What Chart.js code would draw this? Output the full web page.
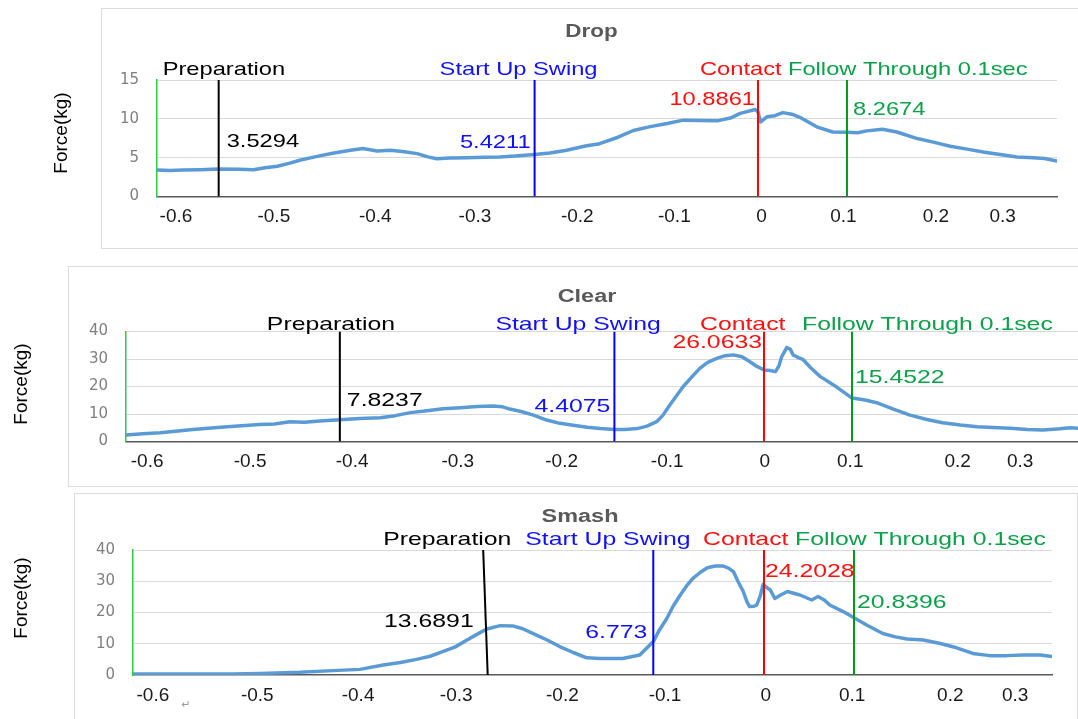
<!DOCTYPE html>
<html>
<head>
<meta charset="utf-8">
<script src="https://cdn.jsdelivr.net/npm/chart.js@4.4.1/dist/chart.umd.min.js"></script>
<style>
html,body{margin:0;padding:0;background:#fff;overflow:hidden;width:1078px;height:719px;position:relative}
.frame{position:absolute;border:1px solid #dcdcdc;box-sizing:border-box}
.wrap{position:absolute;left:0;width:1078px}
</style>
</head>
<body>
<div class="frame" style="left:101px;top:8px;width:1000px;height:241px"></div>
<div class="frame" style="left:68px;top:266px;width:1030px;height:221px"></div>
<div class="frame" style="left:74px;top:493px;width:1004px;height:260px"></div>
<div class="wrap" style="top:0px;height:250px"><canvas id="drop"></canvas></div>
<div class="wrap" style="top:256px;height:230px"><canvas id="clear"></canvas></div>
<div class="wrap" style="top:488px;height:231px"><canvas id="smash"></canvas></div>
<script>
// ---------------- data ----------------
const yTitle = 'Force(kg)';
const eventNames = ['Preparation', 'Start Up Swing', 'Contact', 'Follow Through 0.1sec'];
const tickLabels = ['-0.6', '-0.5', '-0.4', '-0.3', '-0.2', '-0.1', '0', '0.1', '0.2', '0.3'];

// Drop
const dropTitle = 'Drop';
const dropTime = [-0.675,-0.661,-0.646,-0.627,-0.606,-0.582,-0.567,-0.554,-0.540,-0.526,-0.515,-0.498,-0.478,-0.458,-0.444,-0.428,-0.413,-0.397,-0.383,-0.371,-0.361,-0.346,-0.327,-0.307,-0.290,-0.273,-0.251,-0.234,-0.215,-0.194,-0.178,-0.158,-0.140,-0.121,-0.102,-0.084,-0.065,-0.046,-0.031,-0.020,-0.003,0.000,0.003,0.010,0.019,0.028,0.038,0.047,0.066,0.084,0.100,0.112,0.122,0.140,0.156,0.179,0.197,0.216,0.235,0.253,0.272,0.291,0.309,0.322,0.336];
const dropForce = [3.40,3.35,3.40,3.45,3.53,3.50,3.45,3.70,3.90,4.30,4.66,5.10,5.56,5.95,6.17,5.86,5.95,5.75,5.52,5.10,4.87,4.95,5.00,5.05,5.08,5.20,5.42,5.60,5.95,6.50,6.80,7.60,8.50,9.00,9.40,9.83,9.80,9.74,10.10,10.70,11.20,10.89,9.60,10.26,10.40,10.80,10.60,10.20,8.97,8.30,8.27,8.20,8.45,8.67,8.30,7.46,7.00,6.47,6.10,5.73,5.40,5.08,5.00,4.90,4.57];
const dropEventTime = [-0.606, -0.251, 0, 0.1];
const dropEventTimeTop = [-0.606, -0.251, 0, 0.1];
const dropEventForce = [3.5294, 5.4211, 10.8861, 8.2674];
const dropTickAt = [-0.654,-0.544,-0.430,-0.318,-0.203,-0.094,0.004,0.096,0.200,0.275];
const dropRange = [-0.6753, 0.3360];
const dropYMax = 15, dropYStep = 5;

// Clear
const clearTitle = 'Clear';
const clearTime = [-0.725,-0.706,-0.686,-0.649,-0.610,-0.573,-0.556,-0.539,-0.522,-0.505,-0.482,-0.459,-0.436,-0.419,-0.402,-0.383,-0.365,-0.345,-0.326,-0.308,-0.297,-0.289,-0.275,-0.262,-0.247,-0.232,-0.217,-0.201,-0.186,-0.170,-0.158,-0.144,-0.133,-0.122,-0.115,-0.107,-0.099,-0.092,-0.082,-0.073,-0.064,-0.053,-0.044,-0.035,-0.025,-0.016,-0.008,0.000,0.007,0.013,0.017,0.020,0.026,0.030,0.033,0.039,0.044,0.053,0.064,0.083,0.100,0.115,0.128,0.147,0.166,0.185,0.203,0.223,0.242,0.260,0.280,0.299,0.317,0.336,0.348,0.356];
const clearForce = [2.4,2.8,3.2,4.4,5.4,6.2,6.4,7.2,7.0,7.45,7.9,8.4,8.6,9.4,10.5,11.2,11.9,12.3,12.7,12.9,12.6,11.8,10.8,9.6,7.8,6.6,5.9,5.2,4.7,4.4,4.4,4.7,5.6,7.2,9.5,13.3,16.8,19.9,23.5,26.6,28.8,30.3,31.2,31.5,30.8,29.0,27.3,26.0,25.8,25.4,27.5,30.8,34.2,33.5,31.5,30.5,29.9,26.8,23.6,19.7,15.8,15.1,14.1,11.8,9.6,8.0,6.8,6.0,5.4,5.1,4.8,4.4,4.2,4.6,5.0,4.8];
const clearEventTime = [-0.482, -0.170, 0, 0.1];
const clearEventTimeTop = [-0.482, -0.170, 0, 0.1];
const clearEventForce = [7.8237, 4.4075, 26.0633, 15.4522];
const clearTickAt = [-0.701,-0.584,-0.468,-0.348,-0.230,-0.110,0.001,0.098,0.220,0.291];
const clearRange = [-0.725, 0.3568];
const clearYMax = 40, clearYStep = 10;

// Smash
const smashTitle = 'Smash';
const smashTime = [-0.701,-0.663,-0.627,-0.590,-0.560,-0.516,-0.479,-0.449,-0.423,-0.404,-0.386,-0.371,-0.357,-0.343,-0.330,-0.319,-0.308,-0.293,-0.279,-0.268,-0.257,-0.241,-0.227,-0.212,-0.197,-0.182,-0.157,-0.138,-0.123,-0.116,-0.108,-0.101,-0.093,-0.086,-0.079,-0.071,-0.063,-0.054,-0.046,-0.040,-0.034,-0.029,-0.023,-0.019,-0.016,-0.011,-0.008,-0.004,-0.001,0.003,0.007,0.012,0.018,0.026,0.040,0.053,0.060,0.067,0.073,0.088,0.100,0.114,0.132,0.146,0.159,0.177,0.196,0.214,0.232,0.251,0.270,0.288,0.307,0.320];
const smashForce = [0.3,0.35,0.3,0.35,0.5,0.85,1.4,1.8,3.2,4.0,5.0,6.0,7.5,9.0,11.2,13.0,14.7,15.8,15.7,14.8,13.3,11.2,9.1,7.2,5.5,5.3,5.3,6.4,10.7,14.5,18.1,22.0,25.6,28.5,30.9,32.8,34.3,34.9,34.9,34.3,33.1,30.0,26.7,23.5,21.9,22.0,22.4,25.5,29.0,28.0,27.2,24.5,25.5,26.7,25.6,24.0,25.1,24.0,22.4,20.3,18.3,16.0,13.3,12.2,11.5,11.2,10.1,8.7,6.9,6.2,6.2,6.4,6.4,5.9];
const smashEventTime = [-0.307, -0.123, 0, 0.1];
const smashEventTimeTop = [-0.312, -0.123, 0, 0.1];
const smashEventForce = [13.6891, 6.773, 24.2028, 20.8396];
const smashTickAt = [-0.679,-0.563,-0.451,-0.342,-0.224,-0.110,0.002,0.098,0.207,0.279];
const smashRange = [-0.7011, 0.320];
const smashYMax = 40, smashYStep = 10;

// ---------------- styles / layout ----------------
const SANS = '"Liberation Sans", Arial, sans-serif';
const textColors = ['#000000', '#1010ff', '#ff1010', '#0da04a'];
const lineColors = ['#000000', '#0000ff', '#ff0000', '#009a1a'];
const curveColor = '#5b9bd5';

const dropLayout = {top:0, chartLeft:157, padTop:80, padRight:21, padBottom:13.5, xTickPad:9, stretch:1.28,
  titleX:591.5, titleY:32.5, yTitleX:62, yTitleY:133, nameDx:[-56,-95,-58,-59], nameDy:-10,
  values:[{dx:8,align:'left',y:7.02},{dx:-4,align:'right',y:6.89},{dx:-3,align:'right',y:12.42},{dx:6,align:'left',y:11.14}]};
const clearLayout = {top:256, chartLeft:126, padTop:75.5, padRight:0, padBottom:4.5, xTickPad:9, stretch:1.34,
  titleX:587, titleY:297, yTitleX:22, yTitleY:384, nameDx:[-73,-119,-64,-50], nameDy:-6.5,
  values:[{dx:7,align:'left',y:14.8},{dx:-4,align:'right',y:12.5},{dx:-2,align:'right',y:35.8},{dx:3,align:'left',y:23.1}]};
const smashLayout = {top:488, chartLeft:133, padTop:62, padRight:26, padBottom:4, xTickPad:9.5, stretch:1.34,
  titleX:580, titleY:517, yTitleX:22, yTitleY:598, nameDx:[-100,-128,-61,-59], nameDy:-10,
  values:[{dx:-14,align:'right',y:17.0},{dx:-6,align:'right',y:13.4},{dx:1,align:'left',y:33.0},{dx:3,align:'left',y:23.0}],
  mark:{text:'\u21b5', x:186, y:705}};

function stretchText(ctx, text, x, y, align, sx, font, color) {
  ctx.save();
  ctx.font = font;
  ctx.fillStyle = color;
  ctx.textBaseline = 'middle';
  ctx.textAlign = 'left';
  const w = ctx.measureText(text).width * sx;
  const left = align === 'left' ? x : (align === 'right' ? x - w : x - w / 2);
  ctx.translate(left, y);
  ctx.scale(sx, 1);
  ctx.fillText(text, 0, 0);
  ctx.restore();
}

function buildPanel(id, cfg) {
  const L = cfg.layout;
  const curve = cfg.time.map((t, i) => ({x: t, y: cfg.force[i]}));
  const eventSets = cfg.eventTime.map((t, i) => {
    const top = cfg.eventTimeTop[i];
    const pts = [{x: t, y: 0}, {x: top, y: cfg.yMax}].sort((a, b) => a.x - b.x);
    return {data: pts, borderColor: lineColors[i], borderWidth: 2, pointRadius: 0, order: 1, tension: 0, fill: false};
  });
  const textPlugin = {
    id: 'panelText_' + id,
    afterDraw(chart) {
      const {ctx, chartArea} = chart;
      const xs = chart.scales.x, ys = chart.scales.y;
      const font = '18.5px ' + SANS;
      stretchText(ctx, cfg.title, L.titleX, L.titleY - L.top, 'center', L.stretch, 'bold 17.5px ' + SANS, '#595959');
      ctx.save();
      ctx.translate(L.yTitleX, L.yTitleY - L.top);
      ctx.rotate(-Math.PI / 2);
      ctx.font = '19px ' + SANS;
      ctx.fillStyle = '#000';
      ctx.textAlign = 'center';
      ctx.textBaseline = 'middle';
      ctx.fillText(yTitle, 0, 0);
      ctx.restore();
      cfg.eventTime.forEach((t, i) => {
        const xTop = xs.getPixelForValue(cfg.eventTimeTop[i]);
        const xBot = xs.getPixelForValue(t);
        stretchText(ctx, eventNames[i], xTop + L.nameDx[i], chartArea.top + L.nameDy, 'left', L.stretch, font, textColors[i]);
        const v = L.values[i];
        stretchText(ctx, String(cfg.eventForce[i]), xBot + v.dx, ys.getPixelForValue(v.y), v.align, L.stretch, font, textColors[i]);
      });
      if (L.mark) {
        ctx.save();
        ctx.font = '11px "DejaVu Sans", sans-serif';
        ctx.fillStyle = '#9a9a9a';
        ctx.textAlign = 'center';
        ctx.textBaseline = 'middle';
        ctx.fillText(L.mark.text, L.mark.x, L.mark.y - L.top);
        ctx.restore();
      }
    }
  };
  return new Chart(document.getElementById(id), {
    type: 'line',
    data: {datasets: [...eventSets, {data: curve, borderColor: curveColor, borderWidth: 3.5, pointRadius: 0, order: 2,
      tension: 0, fill: false, borderJoinStyle: 'round', borderCapStyle: 'round'}]},
    options: {
      responsive: true, maintainAspectRatio: false, animation: false, events: [],
      layout: {padding: {left: 0, top: L.padTop, right: L.padRight, bottom: L.padBottom}},
      plugins: {legend: {display: false}, tooltip: {enabled: false}, title: {display: false}},
      scales: {
        x: {
          type: 'linear', min: cfg.range[0], max: cfg.range[1],
          afterBuildTicks: ax => { ax.ticks = cfg.tickAt.map(v => ({value: v})); },
          afterFit: ax => { ax.height = 40; ax.paddingLeft = 0; ax.paddingRight = 0; },
          ticks: {autoSkip: false, maxRotation: 0, minRotation: 0, padding: L.xTickPad, color: '#1a1a1a',
            font: {family: SANS, size: 19}, callback: (v, i) => tickLabels[i]},
          grid: {display: false, drawTicks: false},
          border: {display: true, color: '#595959', width: 1.5}
        },
        y: {
          min: 0, max: cfg.yMax,
          afterFit: ax => { ax.width = L.chartLeft; },
          ticks: {stepSize: cfg.yStep, padding: 18, color: '#7f7f7f', font: {family: '"DejaVu Sans", sans-serif', size: 15}},
          grid: {drawTicks: false, lineWidth: 1, color: c => (c.tick && c.tick.value === 0) ? 'rgba(0,0,0,0)' : '#d9d9d9'},
          border: {display: true, color: '#2ecc40', width: 1.5}
        }
      }
    },
    plugins: [textPlugin]
  });
}

buildPanel('drop', {title: dropTitle, time: dropTime, force: dropForce, eventTime: dropEventTime, eventTimeTop: dropEventTimeTop,
  eventForce: dropEventForce, tickAt: dropTickAt, range: dropRange, yMax: dropYMax, yStep: dropYStep, layout: dropLayout});
buildPanel('clear', {title: clearTitle, time: clearTime, force: clearForce, eventTime: clearEventTime, eventTimeTop: clearEventTimeTop,
  eventForce: clearEventForce, tickAt: clearTickAt, range: clearRange, yMax: clearYMax, yStep: clearYStep, layout: clearLayout});
buildPanel('smash', {title: smashTitle, time: smashTime, force: smashForce, eventTime: smashEventTime, eventTimeTop: smashEventTimeTop,
  eventForce: smashEventForce, tickAt: smashTickAt, range: smashRange, yMax: smashYMax, yStep: smashYStep, layout: smashLayout});
</script>
</body>
</html>
